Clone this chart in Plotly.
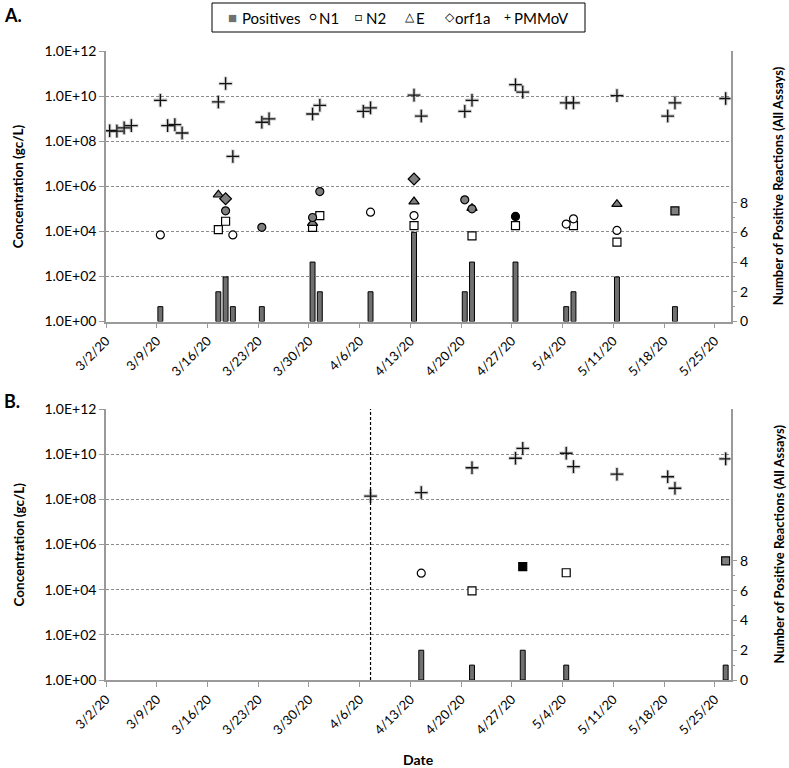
import plotly.graph_objects as go
import pandas as pd

# ---------------- data ----------------
week_ticks = ["2020-03-02", "2020-03-09", "2020-03-16", "2020-03-23", "2020-03-30",
              "2020-04-06", "2020-04-13", "2020-04-20", "2020-04-27", "2020-05-04",
              "2020-05-11", "2020-05-18", "2020-05-25"]
week_labels = ["3/2/20", "3/9/20", "3/16/20", "3/23/20", "3/30/20", "4/6/20", "4/13/20",
               "4/20/20", "4/27/20", "5/4/20", "5/11/20", "5/18/20", "5/25/20"]
conc_tickvals = [1e0, 1e2, 1e4, 1e6, 1e8, 1e10, 1e12]
conc_ticktext = ["1.0E+00", "1.0E+02", "1.0E+04", "1.0E+06", "1.0E+08", "1.0E+10", "1.0E+12"]
count_tickvals = [0, 2, 4, 6, 8]

legend_names = ["Positives", "N1", "N2", "E", "orf1a", "PMMoV"]
legend_glyphs = ["■", "○", "□", "△", "◇", "+"]

# Panel A
a_pos_dates = ["2020-03-09", "2020-03-17", "2020-03-18", "2020-03-19", "2020-03-23",
               "2020-03-30", "2020-03-31", "2020-04-07", "2020-04-13", "2020-04-20",
               "2020-04-21", "2020-04-27", "2020-05-04", "2020-05-05", "2020-05-11",
               "2020-05-19"]
a_pos_counts = [1, 2, 3, 1, 1, 4, 2, 2, 6, 2, 4, 4, 1, 2, 3, 1]

a_pmmov_dates = ["2020-03-02", "2020-03-03", "2020-03-04", "2020-03-05", "2020-03-09",
                 "2020-03-10", "2020-03-11", "2020-03-12", "2020-03-17", "2020-03-18",
                 "2020-03-19", "2020-03-23", "2020-03-24", "2020-03-30", "2020-03-31",
                 "2020-04-06", "2020-04-07", "2020-04-13", "2020-04-14", "2020-04-20",
                 "2020-04-21", "2020-04-27", "2020-04-28", "2020-05-04", "2020-05-05",
                 "2020-05-11", "2020-05-18", "2020-05-19", "2020-05-26"]
a_pmmov_vals = [2.9e8, 2.8e8, 3.9e8, 4.9e8, 6.5e9, 4.9e8, 5.4e8, 2.3e8, 5.5e9, 3.6e10,
                2.1e7, 6.9e8, 9.8e8, 1.6e9, 3.9e9, 2.1e9, 3.0e9, 1.1e10, 1.3e9, 2.1e9,
                6.5e9, 3.2e10, 1.5e10, 5.0e9, 5.0e9, 1.05e10, 1.3e9, 5.0e9, 7.8e9]

a_n1_open_dates = ["2020-03-09", "2020-03-19", "2020-04-07", "2020-04-13", "2020-05-04",
                   "2020-05-05", "2020-05-11"]
a_n1_open_vals = [6.9e3, 6.9e3, 7.1e4, 5.0e4, 2.1e4, 3.6e4, 1.1e4]
a_n1_gray_dates = ["2020-03-18", "2020-03-23", "2020-03-30", "2020-03-31", "2020-04-20",
                   "2020-04-21"]
a_n1_gray_vals = [8.1e4, 1.5e4, 4.1e4, 5.8e5, 2.5e5, 1.0e5]
a_n1_black_dates = ["2020-04-27"]
a_n1_black_vals = [4.6e4]

a_n2_open_dates = ["2020-03-17", "2020-03-18", "2020-03-30", "2020-03-31", "2020-04-13",
                   "2020-04-21", "2020-04-27", "2020-05-05", "2020-05-11"]
a_n2_open_vals = [1.2e4, 2.8e4, 1.5e4, 5.0e4, 1.8e4, 6.3e3, 1.8e4, 1.8e4, 3.3e3]
a_n2_gray_dates = ["2020-05-19"]
a_n2_gray_vals = [8.1e4]

a_e_gray_dates = ["2020-03-17", "2020-03-30", "2020-04-13", "2020-04-21", "2020-05-11"]
a_e_gray_vals = [4.2e5, 2.3e4, 2.1e5, 1.07e5, 1.6e5]

a_orf_gray_dates = ["2020-03-18", "2020-04-13"]
a_orf_gray_vals = [2.8e5, 2.1e6]

# Panel B
b_pos_dates = ["2020-04-14", "2020-04-21", "2020-04-28", "2020-05-04", "2020-05-26"]
b_pos_counts = [2, 1, 2, 1, 1]

b_pmmov_dates = ["2020-04-07", "2020-04-14", "2020-04-21", "2020-04-27", "2020-04-28",
                 "2020-05-04", "2020-05-05", "2020-05-11", "2020-05-18", "2020-05-19",
                 "2020-05-26"]
b_pmmov_vals = [1.4e8, 2.0e8, 2.5e9, 6.6e9, 1.8e10, 1.1e10, 2.8e9, 1.3e9, 1.0e9, 3.1e8,
                6.2e9]

b_n1_open_dates = ["2020-04-14"]
b_n1_open_vals = [5.4e4]
b_n2_open_dates = ["2020-04-21", "2020-05-04"]
b_n2_open_vals = [8.9e3, 5.6e4]
b_n2_black_dates = ["2020-04-28"]
b_n2_black_vals = [1.05e5]
b_n2_gray_dates = ["2020-05-26"]
b_n2_gray_vals = [1.9e5]

b_cutoff_date = "2020-04-07"

# ---------------- helpers ----------------
HALF = pd.Timedelta(hours=12)


def centre(dates):
    return [pd.Timestamp(s) + HALF for s in dates]


FONT = "Lato, 'Open Sans', Arial, sans-serif"
GRAY_FILL = "#7f7f7f"
BAR_FILL = "#707070"
AXIS_GRAY = "#9a9a9a"

fig = go.Figure()

panels = {
    "A": dict(x="x", ybar="y", ylog="y2"),
    "B": dict(x="x2", ybar="y3", ylog="y4"),
}


def bars(p, dates, counts):
    fig.add_trace(go.Bar(
        x=centre(dates), y=counts, name="Positives", showlegend=False,
        width=0.68 * 86400000, marker=dict(color=BAR_FILL, line=dict(color="#000", width=1)),
        xaxis=panels[p]["x"], yaxis=panels[p]["ybar"]))


def pts(p, dates, vals, symbol, fill, name, size=8):
    fig.add_trace(go.Scatter(
        x=centre(dates), y=vals, mode="markers", name=name, showlegend=False,
        marker=dict(symbol=symbol, size=size, color=fill,
                    line=dict(color="#000", width=1.2)),
        xaxis=panels[p]["x"], yaxis=panels[p]["ylog"]))


def pmmov(p, dates, vals):
    fig.add_trace(go.Scatter(
        x=centre(dates), y=vals, mode="markers", showlegend=False, hoverinfo="skip",
        marker=dict(symbol="cross-thin", size=10,
                    line=dict(color="rgba(0,0,0,0.2)", width=3.5)),
        xaxis=panels[p]["x"], yaxis=panels[p]["ylog"]))
    fig.add_trace(go.Scatter(
        x=centre(dates), y=vals, mode="markers", name="PMMoV", showlegend=False,
        marker=dict(symbol="cross-thin", size=9, line=dict(color="#111", width=1.3)),
        xaxis=panels[p]["x"], yaxis=panels[p]["ylog"]))


# Panel A
bars("A", a_pos_dates, a_pos_counts)
pmmov("A", a_pmmov_dates, a_pmmov_vals)
pts("A", a_n2_open_dates, a_n2_open_vals, "square", "white", "N2")
pts("A", a_n2_gray_dates, a_n2_gray_vals, "square", GRAY_FILL, "N2")
pts("A", a_e_gray_dates, a_e_gray_vals, "triangle-up", GRAY_FILL, "E", size=9)
pts("A", a_orf_gray_dates, a_orf_gray_vals, "diamond", GRAY_FILL, "orf1a", size=9)
pts("A", a_n1_open_dates, a_n1_open_vals, "circle", "white", "N1")
pts("A", a_n1_gray_dates, a_n1_gray_vals, "circle", GRAY_FILL, "N1")
pts("A", a_n1_black_dates, a_n1_black_vals, "circle", "#000", "N1")

# Panel B
bars("B", b_pos_dates, b_pos_counts)
pmmov("B", b_pmmov_dates, b_pmmov_vals)
pts("B", b_n2_open_dates, b_n2_open_vals, "square", "white", "N2")
pts("B", b_n2_black_dates, b_n2_black_vals, "square", "#000", "N2")
pts("B", b_n2_gray_dates, b_n2_gray_vals, "square", GRAY_FILL, "N2")
pts("B", b_n1_open_dates, b_n1_open_vals, "circle", "white", "N1")

# ---------------- layout ----------------
W, H = 789, 768


def px_x(v):
    return v / W


def px_y(v):
    return 1 - v / H


xdom = [px_x(106), px_x(730.5)]
domA = [px_y(321.5), px_y(51)]
domB = [px_y(680), px_y(409)]
xrange = ["2020-03-02", "2020-05-27 04:00"]

xcommon = dict(type="date", range=xrange, tickmode="array", tickvals=week_ticks,
               ticktext=week_labels, tickangle=-45, ticks="outside", ticklen=5,
               tickcolor=AXIS_GRAY, showline=True, linecolor=AXIS_GRAY, linewidth=1.5,
               showgrid=False, zeroline=False, domain=xdom, automargin=False,
               tickfont=dict(family=FONT, size=13, color="#000"))
barcommon = dict(range=[0, 18.2], side="right", tickmode="array", tickvals=count_tickvals,
                 ticks="outside", ticklen=5, tickcolor=AXIS_GRAY, showline=True,
                 linecolor=AXIS_GRAY, linewidth=1.5, showgrid=False, zeroline=False,
                 automargin=False,
                 minor=dict(tickvals=[1, 3, 5, 7], ticks="outside", ticklen=3,
                            tickcolor=AXIS_GRAY),
                 tickfont=dict(family=FONT, size=14, color="#000"))
logcommon = dict(type="log", range=[0, 12], side="left", tickmode="array",
                 tickvals=conc_tickvals, ticktext=conc_ticktext, ticks="outside",
                 ticklen=5, tickcolor=AXIS_GRAY, showline=True, linecolor=AXIS_GRAY,
                 linewidth=1.5, showgrid=True, gridcolor="#8c8c8c", griddash="3px,2px",
                 gridwidth=1, zeroline=False, automargin=False,
                 tickfont=dict(family=FONT, size=14, color="#000"))

fig.update_layout(
    width=W, height=H, margin=dict(l=0, r=0, t=0, b=0, autoexpand=False),
    paper_bgcolor="white", plot_bgcolor="white",
    font=dict(family=FONT, size=13, color="#000"),
    barmode="overlay", showlegend=False,
    xaxis=dict(**xcommon, anchor="y"),
    xaxis2=dict(**xcommon, anchor="y3"),
    yaxis=dict(**barcommon, domain=domA, anchor="x"),
    yaxis2=dict(**logcommon, domain=domA, anchor="x", overlaying="y"),
    yaxis3=dict(**barcommon, domain=domB, anchor="x2"),
    yaxis4=dict(**logcommon, domain=domB, anchor="x2", overlaying="y3"),
)

fig.add_shape(type="line", xref="x2", yref="y3 domain",
              x0=pd.Timestamp(b_cutoff_date) + HALF, x1=pd.Timestamp(b_cutoff_date) + HALF,
              y0=0, y1=1, line=dict(color="#000", width=1.2, dash="3px,2px"))

# legend box (drawn manually to match the compact original legend)
fig.add_shape(type="rect", xref="paper", yref="paper", x0=px_x(212), x1=px_x(585),
              y0=px_y(32), y1=px_y(3), line=dict(color="#000", width=1),
              fillcolor="white", layer="above")

ann = []
glyph_x = [226, 307, 353, 403, 443, 502]
label_x = [240, 317, 364, 414, 453, 512]
glyph_colors = ["#707070", "#000", "#000", "#000", "#000", "#000"]
for gx, lx, g, gc, name in zip(glyph_x, label_x, legend_glyphs, glyph_colors, legend_names):
    gsize = 15 if g == "■" else 12
    ann.append(dict(text=g, x=px_x(gx), y=px_y(17), xref="paper", yref="paper",
                    xanchor="left", yanchor="middle", showarrow=False,
                    font=dict(family=FONT, size=gsize, color=gc)))
    ann.append(dict(text=name, x=px_x(lx), y=px_y(18), xref="paper", yref="paper",
                    xanchor="left", yanchor="middle", showarrow=False,
                    font=dict(family=FONT, size=15, color="#000")))
for txt, y in [("A.", 15), ("B.", 401)]:
    ann.append(dict(text="<b>" + txt + "</b>", x=px_x(2), y=px_y(y), xref="paper",
                    yref="paper", xanchor="left", yanchor="middle", showarrow=False,
                    font=dict(family=FONT, size=18, color="#000")))
for ymid in [(51 + 321.5) / 2, (409 + 680) / 2]:
    ann.append(dict(text="<b>Concentration (gc/L)</b>", x=px_x(18), y=px_y(ymid),
                    xref="paper", yref="paper", textangle=-90, showarrow=False,
                    xanchor="center", yanchor="middle",
                    font=dict(family=FONT, size=13.5, color="#000")))
    ann.append(dict(text="<b>Number of Positive Reactions (All Assays)</b>", x=px_x(778),
                    y=px_y(ymid), xref="paper", yref="paper", textangle=-90,
                    showarrow=False, xanchor="center", yanchor="middle",
                    font=dict(family=FONT, size=13, color="#000")))
ann.append(dict(text="<b>Date</b>", x=px_x(418), y=px_y(759), xref="paper", yref="paper",
                showarrow=False, xanchor="center", yanchor="middle",
                font=dict(family=FONT, size=14, color="#000")))
fig.update_layout(annotations=ann)

fig.write_html(
    "out.html",
    config={"displayModeBar": False},
    post_script="document.body.style.margin='0';document.body.style.overflow='hidden';",
)
